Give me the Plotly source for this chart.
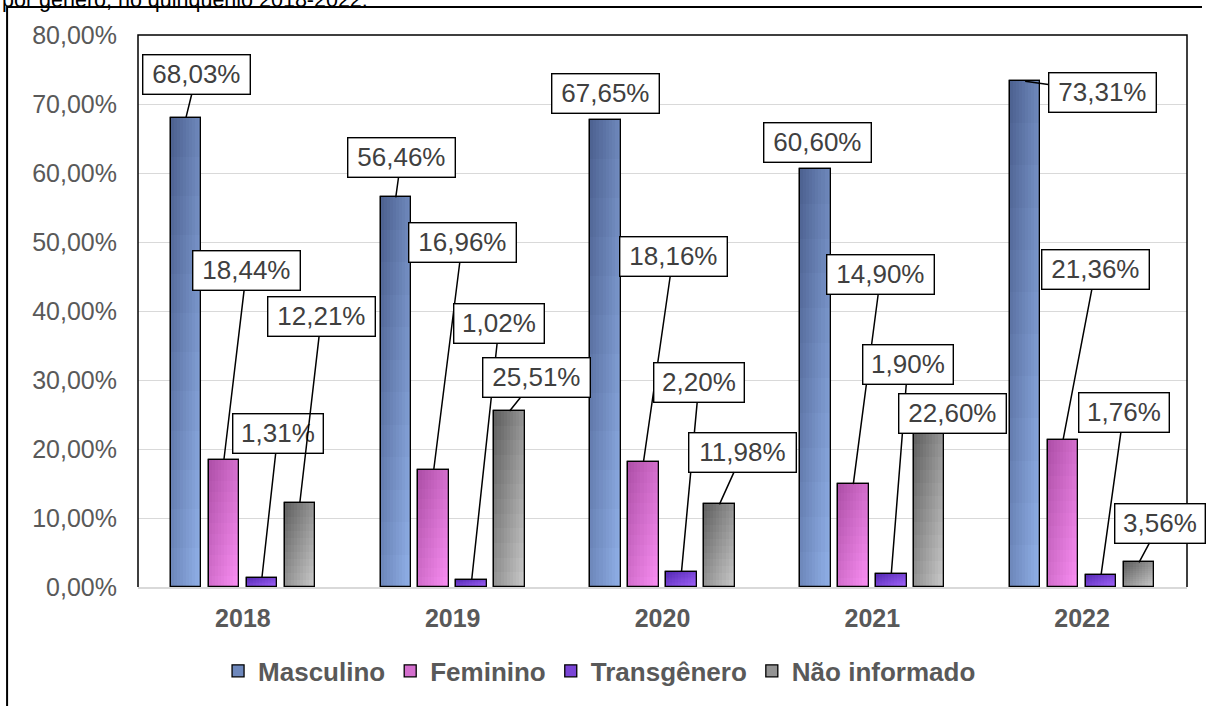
import plotly.graph_objects as go

# ---- data ---------------------------------------------------------------
years = ["2018", "2019", "2020", "2021", "2022"]
series_names = ["Masculino", "Feminino", "Transgênero", "Não informado"]
masculino = [68.03, 56.46, 67.65, 60.60, 73.31]
feminino = [18.44, 16.96, 18.16, 14.90, 21.36]
transgenero = [1.31, 1.02, 2.20, 1.90, 1.76]
nao_informado = [12.21, 25.51, 11.98, 22.60, 3.56]
series_values = [masculino, feminino, transgenero, nao_informado]

# ---- styling ------------------------------------------------------------
FONT = "Liberation Sans, Arial, sans-serif"
TEXT_GRAY = "#595959"
LABEL_GRAY = "#404040"
GRID = "#D9D9D9"

# diagonal gradient endpoints (top-left -> bottom-right) for each series
gradients = [
    ("#4B5F8E", "#92B2EA"),
    ("#AC4EA6", "#FC90F5"),
    ("#5328B2", "#A062FA"),
    ("#5E5E5E", "#CBCBCB"),
]

BAR_W = 0.1452                                   # bar width in category units
centers = [-0.2714, -0.0905, 0.0905, 0.2714]     # bar centres inside a group
N_COLS, N_ROWS = 10, 12                          # gradient resolution


def hex_rgb(h):
    h = h.lstrip("#")
    return [int(h[i:i + 2], 16) for i in (0, 2, 4)]


def mix(c0, c1, t):
    a, b = hex_rgb(c0), hex_rgb(c1)
    r = [round(a[k] + (b[k] - a[k]) * t) for k in range(3)]
    return f"rgb({r[0]},{r[1]},{r[2]})"


def fmt(v):
    return f"{v:.2f}%".replace(".", ",")


fig = go.Figure()

for name, vals, (c0, c1), ctr in zip(series_names, series_values, gradients, centers):
    left = ctr - BAR_W / 2
    # base bar (also provides the legend swatch)
    fig.add_bar(
        x=years, y=vals, offset=left, width=BAR_W, name=name,
        marker=dict(color=mix(c0, c1, 0.5), line=dict(color="black", width=1.3)),
        hoverinfo="skip",
    )
    # gradient fill built from thin column strips split into row segments
    for c in range(N_COLS):
        u = (c + 0.5) / N_COLS
        xs, ys, bases, cols = [], [], [], []
        for yr, v in zip(years, vals):
            seg = v / N_ROWS
            for r in range(N_ROWS):
                vfrac = (r + 0.5) / N_ROWS
                xs.append(yr)
                ys.append(seg)
                bases.append(v - (r + 1) * seg)
                cols.append(mix(c0, c1, (u + vfrac) / 2))
        fig.add_bar(
            x=xs, y=ys, base=bases, offset=left + c * BAR_W / N_COLS,
            width=BAR_W / N_COLS, marker=dict(color=cols, line=dict(width=0)),
            showlegend=False, hoverinfo="skip",
        )
    # black outline on top
    fig.add_bar(
        x=years, y=vals, offset=left, width=BAR_W, showlegend=False,
        marker=dict(color="rgba(0,0,0,0)", line=dict(color="black", width=1.3)),
        hoverinfo="skip",
    )

# ---- data labels with leader lines (box offset from bar top, in px) -------
label_offsets = [
    [(10.5, -42.6), (5.5, -40), (0, -27), (2.5, -26), (77, 11)],
    [(22.5, -189), (28.5, -227), (29.5, -205), (27.5, -210), (32.5, -170)],
    [(16, -144.5), (27.5, -256), (17.5, -189), (16.5, -209), (22.5, -162)],
    [(21.5, -186), (26.5, -33), (23.5, -52), (23.5, -18), (21, -39.4)],
]
leader_visible = [
    [True, True, False, False, True],
    [True, True, True, True, True],
    [True, True, True, True, True],
    [True, True, True, False, True],
]

annotations = []
for s, (vals, ctr) in enumerate(zip(series_values, centers)):
    for i, v in enumerate(vals):
        ax, ay = label_offsets[s][i]
        txt = fmt(v)
        annotations.append(dict(
            x=i + ctr, y=v, xref="x", yref="y",
            ax=ax, ay=ay, axref="pixel", ayref="pixel",
            text=txt, showarrow=True, arrowhead=0, arrowwidth=1.5,
            arrowcolor="black" if leader_visible[s][i] else "rgba(0,0,0,0)",
            font=dict(family=FONT, size=26, color=LABEL_GRAY),
            bgcolor="white", bordercolor="black", borderwidth=1.4, borderpad=3,
            width=100 if len(txt) > 5 else 83, height=32, align="center",
        ))

# heading line of the surrounding text (cut by the page edge)
annotations.append(dict(
    text="por gênero, no quinquênio 2018-2022.", xref="paper", yref="paper",
    x=-0.1314, y=1.0634, xanchor="left", yanchor="middle", showarrow=False,
    font=dict(family=FONT, size=21.5, color="black"),
))

shapes = [
    # plot-area frame (left, top, right)
    dict(type="path", xref="paper", yref="paper", path="M0,0 L0,1 L1,1 L1,0",
         line=dict(color="black", width=1.5), layer="above"),
    # outer chart frame
    dict(type="path", xref="paper", yref="paper",
         path="M-0.1248,-0.25 L-0.1248,1.0507 L1.0143,1.0507",
         line=dict(color="black", width=2), layer="above"),
]

fig.update_layout(
    width=1208, height=706,
    margin=dict(l=138, r=20.5, t=35, b=119),
    paper_bgcolor="white", plot_bgcolor="white",
    barmode="overlay", bargap=0, bargroupgap=0,
    separators=",.",
    font=dict(family=FONT, color=TEXT_GRAY),
    showlegend=True,
    legend=dict(
        orientation="h", x=0.44, xanchor="center", y=-0.152, yanchor="middle",
        font=dict(family=FONT, size=26, color=TEXT_GRAY, weight="bold"),
        bgcolor="rgba(0,0,0,0)", traceorder="normal",
    ),
    annotations=annotations,
    shapes=shapes,
    hovermode=False,
)

fig.update_xaxes(
    type="category", range=[-0.5, 4.5], showgrid=False,
    showline=True, linecolor=GRID, linewidth=2, ticks="",
    tickfont=dict(family=FONT, size=25, color=TEXT_GRAY, weight="bold"),
    ticklabelstandoff=8, automargin=False,
)
fig.update_yaxes(
    range=[0, 80], dtick=10, tickformat=".2f", ticksuffix="%",
    showgrid=True, gridcolor=GRID, gridwidth=1.3, zeroline=False,
    showline=False, ticks="", automargin=False,
    tickfont=dict(family=FONT, size=25, color=TEXT_GRAY),
    ticklabelstandoff=20,
)

fig.write_html("out.html")
